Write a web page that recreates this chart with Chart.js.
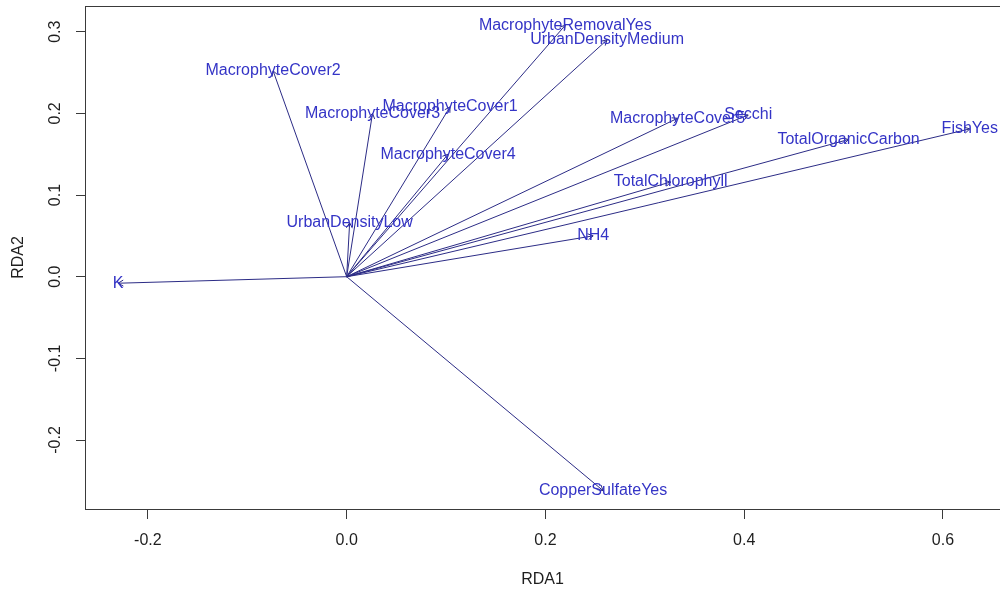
<!DOCTYPE html>
<html>
<head>
<meta charset="utf-8">
<script src="https://cdn.jsdelivr.net/npm/chart.js@4.4.1/dist/chart.umd.min.js"></script>
<style>
  html, body { margin: 0; padding: 0; background: #ffffff; }
  #wrap { width: 1000px; height: 594px; position: relative; }
</style>
</head>
<body>
<div id="wrap"><canvas id="c" width="1000" height="594"></canvas></div>
<script>
// ---- data (biplot arrow tips) ----
const variables = ["K", "MacrophyteCover2", "MacrophyteCover3", "MacrophyteCover1",
  "MacrophyteRemovalYes", "UrbanDensityMedium", "MacrophyteCover4", "UrbanDensityLow",
  "MacrophyteCover5", "Secchi", "TotalOrganicCarbon", "FishYes", "TotalChlorophyll",
  "NH4", "CopperSulfateYes"];
const rda1 = [-0.230, -0.074, 0.026, 0.104, 0.220, 0.262, 0.102, 0.003,
  0.333, 0.404, 0.505, 0.627, 0.326, 0.248, 0.258];
const rda2 = [-0.008, 0.252, 0.200, 0.208, 0.308, 0.290, 0.150, 0.066,
  0.194, 0.198, 0.168, 0.181, 0.116, 0.050, -0.262];
const xTicks = [-0.2, 0.0, 0.2, 0.4, 0.6];
const yTicks = [-0.2, -0.1, 0.0, 0.1, 0.2, 0.3];
const xTitle = "RDA1";
const yTitle = "RDA2";

const FONT = "'Liberation Sans', Arial, sans-serif";
const lineColor = "#2c2c86";
const labelColor = "#3434c6";
const axisColor = "#3a3a3a";

const datasets = variables.map((name, i) => ({
  label: name,
  data: [{x: 0, y: 0}, {x: rda1[i], y: rda2[i]}],
  showLine: true,
  borderColor: lineColor,
  borderWidth: 1,
  pointRadius: 0,
  fill: false
}));

const biplotPlugin = {
  id: 'biplot',
  beforeDraw(chart) {
    const ctx = chart.ctx;
    ctx.save();
    ctx.fillStyle = '#ffffff';
    ctx.fillRect(0, 0, chart.width, chart.height);
    ctx.restore();
  },
  afterDatasetsDraw(chart) {
    const ctx = chart.ctx;
    const xs = chart.scales.x, ys = chart.scales.y;
    const ox = xs.getPixelForValue(0), oy = ys.getPixelForValue(0);
    ctx.save();
    // arrow heads
    ctx.strokeStyle = lineColor;
    ctx.lineWidth = 1;
    const len = 6, ang = Math.PI / 6;
    variables.forEach((n, i) => {
      const tx = xs.getPixelForValue(rda1[i]);
      const ty = ys.getPixelForValue(rda2[i]);
      const a = Math.atan2(ty - oy, tx - ox);
      ctx.beginPath();
      ctx.moveTo(tx - len * Math.cos(a - ang), ty - len * Math.sin(a - ang));
      ctx.lineTo(tx, ty);
      ctx.lineTo(tx - len * Math.cos(a + ang), ty - len * Math.sin(a + ang));
      ctx.stroke();
    });
    // labels
    ctx.fillStyle = labelColor;
    ctx.font = "16px " + FONT;
    ctx.textAlign = 'center';
    ctx.textBaseline = 'middle';
    variables.forEach((n, i) => {
      ctx.fillText(n, xs.getPixelForValue(rda1[i]), ys.getPixelForValue(rda2[i]));
    });
    // top border of the box
    const ca = chart.chartArea;
    ctx.strokeStyle = axisColor;
    ctx.beginPath();
    ctx.moveTo(ca.left, Math.round(ca.top) + 0.5);
    ctx.lineTo(ca.right + 1, Math.round(ca.top) + 0.5);
    ctx.stroke();
    ctx.restore();
  }
};

new Chart(document.getElementById('c'), {
  type: 'scatter',
  data: { datasets },
  options: {
    responsive: false,
    animation: false,
    devicePixelRatio: 1,
    layout: { padding: { top: 6, right: 0, left: 0, bottom: 0 } },
    plugins: { legend: { display: false }, tooltip: { enabled: false } },
    scales: {
      x: {
        type: 'linear',
        min: -0.2633, max: 0.6574,
        afterBuildTicks: s => { s.ticks = xTicks.map(v => ({ value: v })); },
        afterFit: s => { s.height = 85; s.paddingLeft = 0; s.paddingRight = 0; s.paddingTop = 0; s.paddingBottom = 0; },
        grid: { drawOnChartArea: false, drawTicks: true, tickLength: 10, color: axisColor },
        border: { display: true, color: axisColor, width: 1 },
        ticks: {
          padding: 12,
          color: '#1e1e1e',
          font: { family: FONT, size: 16 },
          callback: v => v.toFixed(1),
          maxRotation: 0, minRotation: 0, autoSkip: false
        },
        title: { display: true, text: xTitle, color: '#1e1e1e',
          font: { family: FONT, size: 16 }, padding: { top: 0, bottom: 5 } }
      },
      y: {
        type: 'linear',
        min: -0.2845, max: 0.3315,
        afterBuildTicks: s => { s.ticks = yTicks.map(v => ({ value: v })); },
        afterFit: s => { s.width = 85; s.paddingTop = 0; s.paddingBottom = 0; s.paddingLeft = 0; s.paddingRight = 0; },
        grid: { drawOnChartArea: false, drawTicks: true, tickLength: 9, color: axisColor },
        border: { display: true, color: axisColor, width: 1 },
        ticks: {
          padding: 7,
          color: '#1e1e1e',
          font: { family: FONT, size: 16 },
          callback: v => v.toFixed(1),
          minRotation: 90, maxRotation: 90,
          crossAlign: 'center', autoSkip: false
        },
        title: { display: true, text: yTitle, color: '#1e1e1e',
          font: { family: FONT, size: 16 }, padding: { top: 9, bottom: 0 } }
      }
    }
  },
  plugins: [biplotPlugin]
});
</script>
</body>
</html>
